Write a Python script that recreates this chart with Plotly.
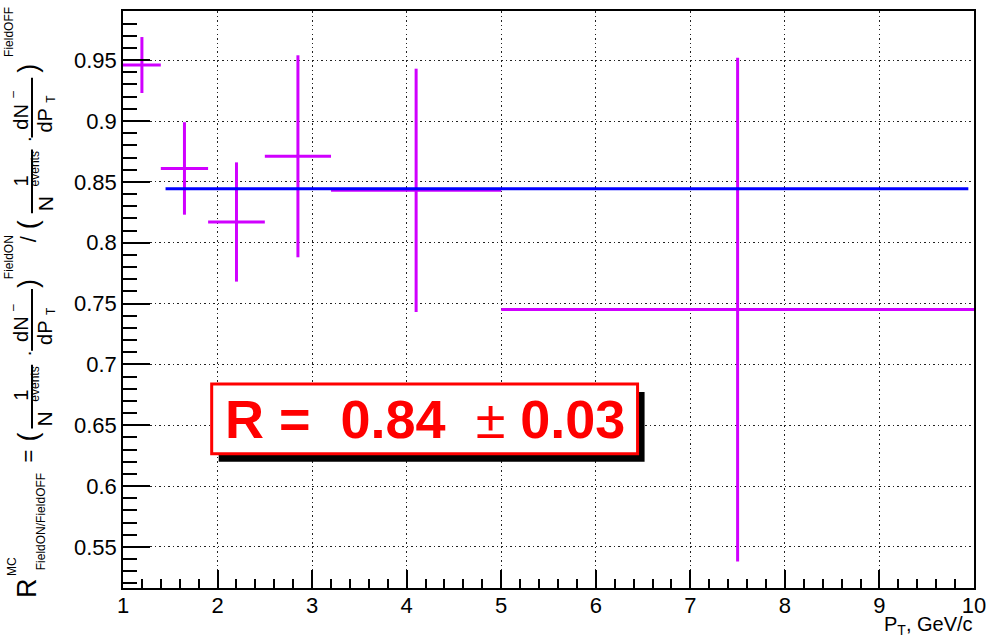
import plotly.graph_objects as go

# ---------------- data ----------------
pt_center = [1.2, 1.65, 2.2, 2.85, 4.1, 7.5]
pt_halfwidth = [0.2, 0.25, 0.3, 0.35, 0.9, 2.5]
ratio = [0.946, 0.861, 0.817, 0.871, 0.843, 0.745]
ratio_err = [0.023, 0.038, 0.049, 0.083, 0.100, 0.207]

fit_x = [1.45, 9.94]
fit_value = 0.8443

x_ticks = [1, 2, 3, 4, 5, 6, 7, 8, 9, 10]
x_ticklabels = ["1", "2", "3", "4", "5", "6", "7", "8", "9", "10"]
y_ticks = [0.55, 0.6, 0.65, 0.7, 0.75, 0.8, 0.85, 0.9, 0.95]
y_ticklabels = ["0.55", "0.6", "0.65", "0.7", "0.75", "0.8", "0.85", "0.9", "0.95"]

result_text = "<b>R =\u00a0\u00a00.84</b>\u00a0 \u00b1 <b>0.03</b>"

MAGENTA = "#d000ff"
FONT = "Liberation Sans, Arial, Helvetica, sans-serif"

W, H = 998, 639
L, R_, T, B = 123, 24, 9, 51

fig = go.Figure()

fig.add_trace(go.Scatter(
    x=pt_center, y=ratio, mode="markers",
    marker=dict(size=1, color=MAGENTA),
    error_x=dict(type="data", array=pt_halfwidth, color=MAGENTA, thickness=3, width=0),
    error_y=dict(type="data", array=ratio_err, color=MAGENTA, thickness=3, width=0),
    showlegend=False, hoverinfo="skip",
))

fig.add_trace(go.Scatter(
    x=fit_x, y=[fit_value, fit_value], mode="lines",
    line=dict(color="#0000ff", width=3), showlegend=False, hoverinfo="skip",
))


def to_paper(px, py):
    return (px - L) / (W - L - R_), (H - B - py) / (H - T - B)


# ---------- result box ----------
bx0, bx1, by0, by1 = 1.938, 6.442, 0.6265, 0.6838
sdx, sdy = 7 / 94.5, 8 / 1221.0
shapes = [
    dict(type="rect", xref="x", yref="y", x0=bx0 + sdx, x1=bx1 + sdx, y0=by0 - sdy, y1=by1 - sdy,
         fillcolor="black", line=dict(width=0), layer="above"),
    dict(type="rect", xref="x", yref="y", x0=bx0, x1=bx1, y0=by0, y1=by1,
         fillcolor="white", line=dict(color="#ff0000", width=3), layer="above"),
]
tx, ty = to_paper(975, 626)
annotations = [
    dict(x=(bx0 + bx1) / 2, y=(by0 + by1) / 2, xref="x", yref="y", text=result_text,
         showarrow=False, font=dict(family=FONT, size=54, color="#ff0000"),
         xanchor="center", yanchor="middle"),
    dict(x=tx, y=ty, xref="paper", yref="paper", text="P<sub>T</sub>, GeV/c", showarrow=False,
         xanchor="right", yanchor="middle",
         font=dict(family=FONT, size=20, color="black")),
]


def ylab(text, px, py, size):
    xp, yp = to_paper(px, py)
    annotations.append(dict(x=xp, y=yp, xref="paper", yref="paper", text=text, showarrow=False,
                            textangle=-90, xanchor="center", yanchor="middle",
                            font=dict(family=FONT, size=size, color="black")))


def bar(px, py0, py1):
    x0, y0 = to_paper(px, py0)
    _, y1 = to_paper(px, py1)
    shapes.append(dict(type="line", xref="paper", yref="paper", x0=x0, x1=x0, y0=y0, y1=y1,
                       line=dict(color="black", width=2)))


# y-axis title built from pieces (reads bottom to top)
ylab("R", 27, 588, 27)
ylab("MC", 12, 567, 12)
ylab("FieldON/FieldOFF", 41, 522, 12)
ylab("=", 28, 456, 22)
ylab("(", 28, 437, 27)
# 1/N^events
ylab("1", 21, 395, 20)
bar(32, 364, 428)
ylab("N", 45, 419, 21)
ylab("events", 35, 384, 12)
ylab("\u00b7", 28, 353, 20)
# dN-/dPT
ylab("dN", 21, 328, 20)
ylab("\u2013", 13, 307, 12)
bar(32, 288, 350)
ylab("dP", 45, 332, 20)
ylab("T", 51, 310, 12)
ylab(")", 28, 283, 27)
ylab("FieldON", 9, 256, 12)
ylab("/", 28, 238, 22)
ylab("(", 28, 224, 27)
ylab("1", 21, 180, 20)
bar(32, 148, 212)
ylab("N", 45, 203, 21)
ylab("events", 35, 168, 12)
ylab("\u00b7", 28, 138, 20)
ylab("dN", 21, 115, 20)
ylab("\u2013", 13, 93, 12)
bar(32, 76, 136)
ylab("dP", 45, 119, 20)
ylab("T", 51, 97, 12)
ylab(")", 28, 67, 27)
ylab("FieldOFF", 9, 30, 12)

axis_common = dict(
    showline=True, linecolor="black", linewidth=1.5, mirror=True,
    ticks="inside", tickcolor="black", tickwidth=1.5,
    showgrid=True, gridcolor="#222222", griddash="1.5px,3px", gridwidth=1,
    zeroline=False, tickfont=dict(family=FONT, size=22, color="black"),
)

fig.update_layout(
    width=W, height=H,
    margin=dict(l=L, r=R_, t=T, b=B),
    paper_bgcolor="white", plot_bgcolor="white",
    xaxis=dict(range=[1, 10], tickvals=x_ticks, ticktext=x_ticklabels, ticklen=18,
               ticklabelstandoff=-3,
               minor=dict(dtick=0.2, tick0=1, ticks="inside", ticklen=9, tickcolor="black",
                          tickwidth=1.5, showgrid=False),
               **axis_common),
    yaxis=dict(range=[0.5162, 0.9904], tickvals=y_ticks, ticktext=y_ticklabels, ticklen=27,
               minor=dict(dtick=0.01, tick0=0.55, ticks="inside", ticklen=14, tickcolor="black",
                          tickwidth=1.5, showgrid=False),
               **axis_common),
    shapes=shapes,
    annotations=annotations,
)

fig.write_html("out.html")
